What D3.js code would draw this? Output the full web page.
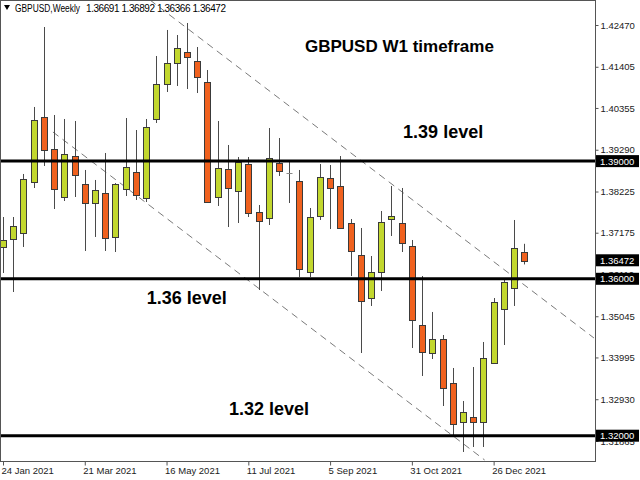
<!DOCTYPE html>
<html><head><meta charset="utf-8">
<script src="https://cdn.jsdelivr.net/npm/d3@7"></script>
<style>
body{margin:0;background:#fff;}
svg{display:block;}
text{font-family:"Liberation Sans",Arial,sans-serif;}
</style></head>
<body>
<svg id="c" width="640" height="480"></svg>
<script>
// ---- data ----
const dates = ["2021-01-24","2021-01-31","2021-02-07","2021-02-14","2021-02-21","2021-02-28","2021-03-07","2021-03-14","2021-03-21","2021-03-28","2021-04-04","2021-04-11","2021-04-18","2021-04-25","2021-05-02","2021-05-09","2021-05-16","2021-05-23","2021-05-30","2021-06-06","2021-06-13","2021-06-20","2021-06-27","2021-07-04","2021-07-11","2021-07-18","2021-07-25","2021-08-01","2021-08-08","2021-08-15","2021-08-22","2021-08-29","2021-09-05","2021-09-12","2021-09-19","2021-09-26","2021-10-03","2021-10-10","2021-10-17","2021-10-24","2021-10-31","2021-11-07","2021-11-14","2021-11-21","2021-11-28","2021-12-05","2021-12-12","2021-12-19","2021-12-26","2022-01-02","2022-01-09","2022-01-16"];
const open  = [1.36811,1.37015,1.37168,1.38468,1.40125,1.39309,1.38085,1.39130,1.38417,1.37932,1.38187,1.37066,1.38289,1.38723,1.38060,1.40074,1.40966,1.41501,1.41782,1.41552,1.41017,1.38085,1.38799,1.38238,1.38926,1.37703,1.37550,1.38952,1.38697,1.38493,1.36173,1.37601,1.38570,1.38366,1.37422,1.36607,1.35510,1.36173,1.37524,1.37422,1.36836,1.34822,1.34108,1.34465,1.33344,1.32349,1.32477,1.32349,1.33853,1.35230,1.35765,1.36691];
const high  = [1.37575,1.37575,1.38672,1.40380,1.42419,1.40176,1.40074,1.40023,1.38774,1.38519,1.39207,1.38440,1.40099,1.39793,1.40074,1.41680,1.42343,1.42215,1.42521,1.41909,1.41323,1.40023,1.39411,1.39105,1.39105,1.37881,1.39844,1.39589,1.38977,1.38774,1.37805,1.38926,1.38901,1.39130,1.37524,1.37295,1.36581,1.37728,1.38366,1.38315,1.36989,1.36071,1.35154,1.34567,1.33726,1.32885,1.33751,1.34389,1.35510,1.35969,1.37499,1.36892];
const low   = [1.36148,1.35663,1.36811,1.38315,1.38876,1.37779,1.37983,1.38085,1.36709,1.37066,1.36709,1.36683,1.38111,1.38009,1.37958,1.39972,1.40762,1.40915,1.40838,1.40736,1.37932,1.37856,1.37320,1.37422,1.37575,1.35714,1.37371,1.38621,1.37932,1.36046,1.36046,1.37499,1.37269,1.37269,1.36071,1.34108,1.35307,1.35689,1.37091,1.36683,1.34236,1.33522,1.33955,1.32757,1.31993,1.31585,1.31712,1.31712,1.33853,1.34312,1.35307,1.36366];
const close = [1.36989,1.37346,1.38544,1.40048,1.39283,1.38289,1.39181,1.38646,1.37932,1.38264,1.37040,1.38417,1.38850,1.38136,1.39870,1.40966,1.41501,1.41884,1.41654,1.41144,1.37958,1.38825,1.38315,1.38977,1.37677,1.37473,1.39079,1.38748,1.38697,1.36250,1.37575,1.38595,1.38315,1.37295,1.36709,1.35434,1.36173,1.37448,1.37601,1.36912,1.34950,1.34134,1.34465,1.33216,1.32298,1.32604,1.32349,1.33981,1.35408,1.35918,1.36785,1.36472];

const priceTicks = [1.42470,1.41405,1.40355,1.39290,1.38225,1.37175,1.36110,1.35045,1.33995,1.32930,1.31865];
const dateTicks = ["2021-01-24","2021-03-21","2021-05-16","2021-07-11","2021-09-05","2021-10-31","2021-12-26"];
const levels = [1.39000, 1.36000, 1.32000];
const currentPrice = 1.36472;
const levelNotes = [{text:"1.39 level", date:"2021-10-25", price:1.39577},{text:"1.36 level", date:"2021-05-02T10:00", price:1.35355},{text:"1.32 level", date:"2021-06-27T19:00", price:1.32540}];
const titleNote = {text:"GBPUSD W1 timeframe", date:"2021-08-18T19:00", price:1.41782};
const trendUpper = [{date:"2021-05-04T16:00", price:1.43107},{date:"2022-03-04T17:00", price:1.34491}];
const trendLower = [{date:"2021-02-27T05:00", price:1.39742},{date:"2021-12-19T20:00", price:1.31381}];
const headerName = "GBPUSD,Weekly";
const headerValues = "1.36691 1.36892 1.36366 1.36472";

// ---- layout ----
const svg = d3.select("#c");
const PL = 1, PR = 595, PT = 1, PB = 461;
const parse = d3.isoParse;
const x = d3.scaleTime().domain([parse("2021-01-24"), parse("2022-01-16")]).range([3, 524.3]);
const y = d3.scaleLinear().domain([1.3200, 1.4247]).range([435.7, 25]);

const candles = dates.map((d,i)=>({d:parse(d),o:open[i],h:high[i],l:low[i],c:close[i]}));

svg.append("defs").append("clipPath").attr("id","plot")
  .append("rect").attr("x",PL).attr("y",PT).attr("width",PR-PL).attr("height",PB-PT);

const g = svg.append("g").attr("clip-path","url(#plot)");

// trend lines
const line = d3.line().x(p=>x(parse(p.date))).y(p=>y(p.price));
[trendUpper, trendLower].forEach(t=>{
  g.append("path").attr("d", line(t)).attr("fill","none")
   .attr("stroke","#7a7a7a").attr("stroke-width",1).attr("stroke-dasharray","7,5");
});

// candles
const GREEN="#c2d72e", RED="#f0611e", OUT="#3a3a3a";
const cg = g.append("g");
candles.forEach(c=>{
  const cx = Math.round(x(c.d))+0.5;
  cg.append("line").attr("x1",cx).attr("x2",cx).attr("y1",y(c.h)).attr("y2",y(c.l))
    .attr("stroke","#4a4a4a").attr("stroke-width",1);
  const top = y(Math.max(c.o,c.c)), bot = y(Math.min(c.o,c.c));
  const bull = c.c > c.o, doji = c.c === c.o;
  if (doji) {
    cg.append("line").attr("x1",cx-3).attr("x2",cx+3).attr("y1",Math.round(top)+0.5).attr("y2",Math.round(top)+0.5)
      .attr("stroke","#888").attr("stroke-width",1);
  } else {
    cg.append("rect").attr("x",cx-3).attr("y",Math.round(top)+0.5)
      .attr("width",6).attr("height",Math.max(1,Math.round(bot-top)))
      .attr("fill", bull?GREEN:RED).attr("stroke",OUT).attr("stroke-width",1);
  }
});

// horizontal levels
levels.forEach(v=>{
  g.append("line").attr("x1",PL).attr("x2",PR).attr("y1",y(v)).attr("y2",y(v))
   .attr("stroke","#000").attr("stroke-width",3);
});

// annotations
g.append("text").attr("x",x(parse(titleNote.date))).attr("y",y(titleNote.price))
  .attr("font-size",17).attr("font-weight","bold").attr("fill","#000").text(titleNote.text);
levelNotes.forEach(n=>{
  g.append("text").attr("x",x(parse(n.date))).attr("y",y(n.price))
   .attr("font-size",18).attr("font-weight","bold").attr("fill","#000").text(n.text);
});

// frame
svg.append("rect").attr("x",PL-0.5).attr("y",PT-0.5).attr("width",PR-PL+1).attr("height",PB-PT+1)
  .attr("fill","none").attr("stroke","#555").attr("stroke-width",1);

// header
svg.append("path").attr("d","M4,5 L10,5 L7,10 Z").attr("fill","#000");
svg.append("text").attr("x",15).attr("y",12).attr("font-size",10).attr("fill","#000")
  .attr("textLength",65).attr("lengthAdjust","spacingAndGlyphs").text(headerName);
svg.append("text").attr("x",86).attr("y",12).attr("font-size",10).attr("fill","#000")
  .attr("textLength",140).attr("lengthAdjust","spacing").text(headerValues);

// right price axis
const yAxis = d3.axisRight(y).tickValues(priceTicks).tickFormat(d3.format(".5f")).tickSize(3).tickPadding(2);
const ya = svg.append("g").attr("transform",`translate(${PR+0.5},0)`).call(yAxis);
ya.select(".domain").remove();
ya.selectAll("line").attr("stroke","#555");
ya.selectAll("text").attr("font-size",9.5).attr("fill","#222").attr("font-family","Liberation Sans, Arial, sans-serif");

// price boxes
[...levels, currentPrice].forEach(v=>{
  const yy = y(v);
  svg.append("rect").attr("x",PR+1).attr("y",yy-6).attr("width",43).attr("height",12).attr("fill","#000");
  svg.append("text").attr("x",PR+5).attr("y",yy+3.5).attr("font-size",9.5).attr("fill","#fff").text(d3.format(".5f")(v));
});

// bottom date axis
const xAxis = d3.axisBottom(x).tickValues(dateTicks.map(parse)).tickFormat(d3.timeFormat("%-d %b %Y")).tickSize(4);
const xa = svg.append("g").attr("transform",`translate(0,${PB+0.5})`).call(xAxis);
xa.select(".domain").remove();
xa.selectAll("line").attr("stroke","#555");
xa.selectAll("text").attr("text-anchor","start").attr("dx","-2").attr("dy","0.55em")
  .attr("font-size",9.5).attr("fill","#222").attr("font-family","Liberation Sans, Arial, sans-serif");
</script>
</body></html>
